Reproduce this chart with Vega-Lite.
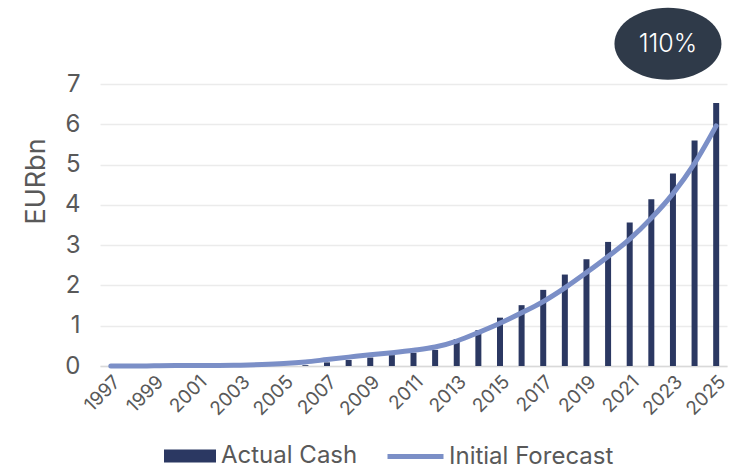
{
  "$schema": "https://vega.github.io/schema/vega-lite/v6.json",
  "width": 627,
  "height": 282,
  "autosize": {"type": "none"},
  "padding": {"left": 100, "top": 84, "right": 7, "bottom": 102},
  "background": "white",
  "config": {"view": {"stroke": null}, "font": "Inter"},
  "data": {
    "values": [
      {"year": "1997", "actual": 0, "forecast": 0},
      {"year": "1998", "actual": 0, "forecast": 0},
      {"year": "1999", "actual": 0, "forecast": 0.005},
      {"year": "2000", "actual": 0, "forecast": 0.01},
      {"year": "2001", "actual": 0, "forecast": 0.01},
      {"year": "2002", "actual": 0, "forecast": 0.015},
      {"year": "2003", "actual": 0, "forecast": 0.02},
      {"year": "2004", "actual": 0, "forecast": 0.035},
      {"year": "2005", "actual": 0, "forecast": 0.06},
      {"year": "2006", "actual": 0.02, "forecast": 0.1},
      {"year": "2007", "actual": 0.09, "forecast": 0.16},
      {"year": "2008", "actual": 0.15, "forecast": 0.22},
      {"year": "2009", "actual": 0.21, "forecast": 0.28},
      {"year": "2010", "actual": 0.27, "forecast": 0.33},
      {"year": "2011", "actual": 0.33, "forecast": 0.39},
      {"year": "2012", "actual": 0.4, "forecast": 0.47},
      {"year": "2013", "actual": 0.67, "forecast": 0.62},
      {"year": "2014", "actual": 0.89, "forecast": 0.83},
      {"year": "2015", "actual": 1.2, "forecast": 1.06},
      {"year": "2016", "actual": 1.51, "forecast": 1.32},
      {"year": "2017", "actual": 1.89, "forecast": 1.6},
      {"year": "2018", "actual": 2.27, "forecast": 1.94},
      {"year": "2019", "actual": 2.65, "forecast": 2.32},
      {"year": "2020", "actual": 3.08, "forecast": 2.72},
      {"year": "2021", "actual": 3.56, "forecast": 3.15},
      {"year": "2022", "actual": 4.14, "forecast": 3.67},
      {"year": "2023", "actual": 4.78, "forecast": 4.28},
      {"year": "2024", "actual": 5.6, "forecast": 5.03},
      {"year": "2025", "actual": 6.53, "forecast": 5.96}
    ]
  },
  "encoding": {
    "x": {
      "field": "year",
      "type": "ordinal",
      "scale": {"paddingInner": 0, "paddingOuter": 0},
      "axis": {
        "title": null,
        "values": ["1997","1999","2001","2003","2005","2007","2009","2011","2013","2015","2017","2019","2021","2023","2025"],
        "labelAngle": -45,
        "labelFontSize": 19,
        "labelColor": "#595959",
        "labelPadding": 6,
        "ticks": false,
        "domainColor": "#d9d9d9",
        "domainWidth": 1.5
      }
    }
  },
  "layer": [
    {
      "mark": {"type": "bar", "size": 6},
      "encoding": {
        "y": {
          "field": "actual",
          "type": "quantitative",
          "scale": {"domain": [0, 7], "nice": false},
          "axis": {
            "values": [0, 1, 2, 3, 4, 5, 6, 7],
            "title": "EURbn",
            "titleFontSize": 27,
            "titleFontWeight": "normal",
            "titleColor": "#595959",
            "titleX": -64,
            "titleY": 97,
            "titleAlign": "center",
            "titleBaseline": "middle",
            "labelFontSize": 24,
            "labelColor": "#595959",
            "labelPadding": 20,
            "domain": false,
            "ticks": false,
            "gridColor": "#ebebeb",
            "gridWidth": 1.5
          }
        },
        "fill": {
          "datum": "Actual Cash",
          "scale": {"range": ["#2B3862"]},
          "legend": {
            "title": null,
            "orient": "none",
            "legendX": 64,
            "legendY": 346,
            "symbolType": "M-1,-0.25H1V0.25H-1Z",
            "symbolSize": 2704,
            "symbolStrokeWidth": 0,
            "symbolOpacity": 1,
            "labelFontSize": 24,
            "labelColor": "#595959",
            "labelOffset": 5,
            "labelLimit": 300,
            "padding": 0
          }
        }
      }
    },
    {
      "mark": {"type": "line", "interpolate": "monotone", "strokeWidth": 5, "strokeCap": "round"},
      "encoding": {
        "y": {"field": "forecast", "type": "quantitative"},
        "stroke": {
          "datum": "Initial Forecast",
          "scale": {"range": ["#7B8FC7"]},
          "legend": {
            "title": null,
            "orient": "none",
            "legendX": 285,
            "legendY": 342,
            "symbolType": "stroke",
            "symbolSize": 3136,
            "symbolStrokeWidth": 5,
            "symbolOpacity": 1,
            "labelFontSize": 24,
            "labelColor": "#595959",
            "labelOffset": 3,
            "labelLimit": 300,
            "padding": 0
          }
        }
      }
    },
    {
      "data": {"values": [{"label": "110%"}]},
      "mark": {
        "type": "point",
        "shape": "M-1.486,0A1.486,1 0 1,0 1.486,0A1.486,1 0 1,0 -1.486,0Z",
        "size": 5184,
        "filled": true,
        "opacity": 1,
        "color": "#2F3A49",
        "xOffset": -5
      },
      "encoding": {
        "x": {"datum": "2023"},
        "y": {"datum": 8}
      }
    },
    {
      "data": {"values": [{"label": "110%"}]},
      "mark": {
        "type": "text",
        "color": "white",
        "fontSize": 25,
        "fontWeight": 300,
        "align": "center",
        "baseline": "middle",
        "xOffset": -5
      },
      "encoding": {
        "x": {"datum": "2023"},
        "y": {"datum": 8},
        "text": {"field": "label"}
      }
    }
  ]
}
